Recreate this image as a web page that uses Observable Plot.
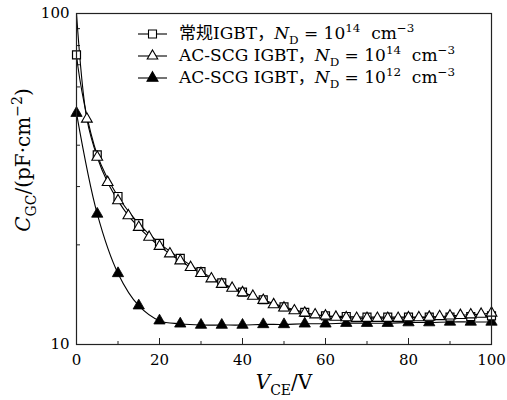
<!DOCTYPE html>
<html><head><meta charset="utf-8">
<script src="https://cdn.jsdelivr.net/npm/d3@7"></script>
<script src="https://cdn.jsdelivr.net/npm/@observablehq/plot@0.6"></script>
<style>body{margin:0;background:#fff}</style>
</head><body><div id="chart"></div>
<script>
// ---- data ----
const vStep5 = [0,5,10,15,20,25,30,35,40,45,50,55,60,65,70,75,80,85,90,95,100];
const convC  = [75,37.4,28.0,23.2,20.2,18.2,16.6,15.35,14.4,13.65,13.0,12.5,12.2,12.15,12.1,12.1,12.1,12.1,12.1,12.15,12.2];
const vStep25 = [2.5,5,7.5,10,12.5,15,17.5,20,22.5,25,27.5,30,32.5,35,37.5,40,42.5,45,47.5,50,52.5,55,57.5,60,62.5,65,67.5,70,72.5,75,77.5,80,82.5,85,87.5,90,92.5,95,97.5,100];
const acsC14 = [48,36.8,30.9,27.2,24.5,22.6,21.1,19.8,18.8,17.9,17.1,16.4,15.8,15.2,14.8,14.35,14.0,13.6,13.2,12.9,12.65,12.45,12.3,12.2,12.1,12.05,12.0,12.0,12.0,12.0,12.0,12.05,12.05,12.1,12.15,12.2,12.25,12.3,12.35,12.45];
const acsC12 = [50,24.8,16.4,13.1,11.8,11.55,11.45,11.45,11.45,11.5,11.5,11.55,11.55,11.6,11.6,11.6,11.65,11.65,11.7,11.7,11.7];
const lineStart = {V: 0, C: 100}; // curves of the 1e14 devices start at the top-left corner
const xTicks = [0,20,40,60,80,100];
const xMinor = [10,30,50,70,90];
const yTicks = [10,100];
const yMinor = [20,30,40,50,60,70,80,90];

const conv = vStep5.map((V,i)=>({V, C: convC[i]}));
const acs14 = vStep25.map((V,i)=>({V, C: acsC14[i]}));
const acs12 = vStep5.map((V,i)=>({V, C: acsC12[i]}));

const W=507,H=400,mL=76,mR=16,mT=13,mB=56;
const pw=W-mL-mR, ph=H-mT-mB;
const serif = "'DejaVu Serif','Liberation Serif',serif";
const cjk = "'Noto Sans CJK SC'";

const chart = Plot.plot({
  width: W, height: H, marginLeft: mL, marginRight: mR, marginTop: mT, marginBottom: mB,
  x: {domain: [0,100]},
  y: {type: "log", domain: [10,100]},
  style: {fontFamily: serif, fontSize: "15px", color: "black", background: "white"},
  marks: [
    Plot.tickX(xTicks, {x: d=>d, insetTop: ph-6, stroke: "#222"}),
    Plot.tickX(xMinor, {x: d=>d, insetTop: ph-3, stroke: "#222"}),
    Plot.tickY(yMinor, {y: d=>d, insetRight: pw-4, stroke: "#222"}),
    Plot.axisX({ticks: xTicks, tickSize: 0, tickPadding: 10, tickFormat: d=>String(d), label: null, fontSize: 15}),
    Plot.axisY({ticks: yTicks, tickSize: 0, tickPadding: 7, tickFormat: d=>String(d), label: null, fontSize: 15}),
    Plot.line([lineStart, ...conv], {x: "V", y: "C", curve: "catmull-rom", stroke: "black", strokeWidth: 1.1, clip: true}),
    Plot.line([lineStart, ...acs14], {x: "V", y: "C", curve: "catmull-rom", stroke: "black", strokeWidth: 1.1, clip: true}),
    Plot.line(acs12, {x: "V", y: "C", curve: "catmull-rom", stroke: "black", strokeWidth: 1.1, clip: true}),
    Plot.dot(acs12, {x: "V", y: "C", symbol: "triangle", r: 4.2, fill: "black", stroke: "black", strokeWidth: 0.8}),
    Plot.dot(conv, {x: "V", y: "C", symbol: "square", r: 4.5, fill: "white", stroke: "black", strokeWidth: 1.2}),
    Plot.dot(acs14, {x: "V", y: "C", symbol: "triangle", r: 4, fill: "white", stroke: "black", strokeWidth: 1.1}),
    Plot.frame({stroke: "#222", strokeWidth: 1.2})
  ]
});
document.getElementById("chart").append(chart);

const svg = d3.select(chart);
// rich text helper: parts [{t, it, sub, sup, fam}]
function rich(g, x, y, parts, size, anchor, rotate){
  const t = g.append("text").attr("x", x).attr("y", y)
    .attr("font-family", serif).attr("font-size", size).attr("fill","black")
    .attr("text-anchor", anchor||"start").style("white-space","pre");
  if (rotate) t.attr("transform", `rotate(${rotate},${x},${y})`);
  let shift = 0;
  for (const p of parts){
    const s = t.append("tspan").text(p.t);
    let target = 0, fs = size;
    if (p.sub){ target = size*0.28; fs = size*0.7; }
    if (p.sup){ target = -size*0.4; fs = size*0.7; }
    s.attr("dy", target - shift); shift = target;
    s.attr("font-size", fs);
    if (p.it) s.attr("font-style","italic");
    if (p.fam) s.attr("font-family", p.fam);
  }
  return t;
}
// axis titles
rich(svg, 284, 389, [{t:"V",it:1},{t:"CE",sub:1},{t:"/V"}], 20, "middle");
rich(svg, 30, 160, [{t:"C",it:1},{t:"GC",sub:1},{t:"/(pF·cm"},{t:"−2",sup:1},{t:")"}], 20, "middle", -90);

// legend
const rows = [
  {sym: d3.symbolSquare, fill: "white", size: 64, pre: [{t:"常规", fam:cjk},{t:"IGBT"},{t:"，", fam:cjk}], e: "14"},
  {sym: d3.symbolTriangle, fill: "white", size: 48, pre: [{t:"AC-SCG IGBT"},{t:"，", fam:cjk}], e: "14"},
  {sym: d3.symbolTriangle, fill: "black", size: 52, pre: [{t:"AC-SCG IGBT"},{t:"，", fam:cjk}], e: "12"}
];
const lg = svg.append("g");
rows.forEach((r,i)=>{
  const cy = 34 + i*22;
  lg.append("line").attr("x1",138).attr("x2",167).attr("y1",cy).attr("y2",cy).attr("stroke","black").attr("stroke-width",1.1);
  lg.append("path").attr("d", d3.symbol(r.sym, r.size)()).attr("transform",`translate(152.5,${cy})`)
    .attr("fill", r.fill).attr("stroke","black").attr("stroke-width",1.1);
  rich(lg, 179, cy+5, [...r.pre, {t:"N",it:1},{t:"D",sub:1},{t:" = 10"},{t:r.e,sup:1},{t:"  cm"},{t:"−3",sup:1}], 17, "start");
});
</script></body></html>
